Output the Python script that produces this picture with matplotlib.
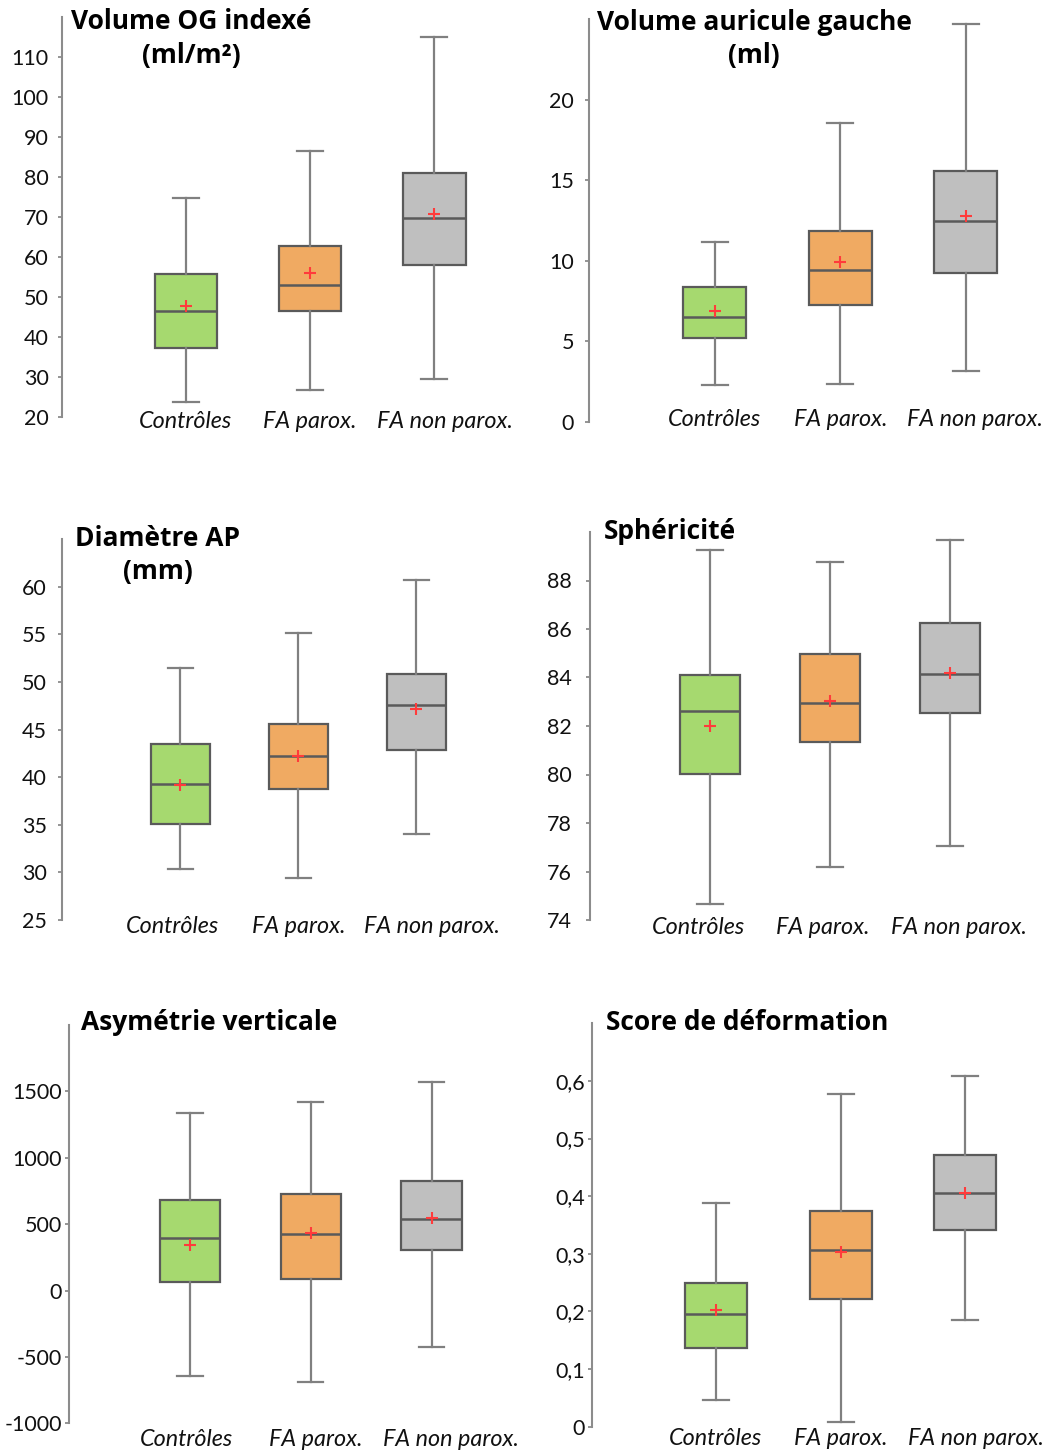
import matplotlib
matplotlib.use("Agg")
import matplotlib.pyplot as plt
from matplotlib.transforms import blended_transform_factory

# ---------------- data ----------------
categories = ["Contrôles", "FA parox.", "FA non parox."]
box_colors = ["#A6D96F", "#F0AA62", "#BFBFBF"]

# Volume OG indexé (ml/m²)
og_whislo = [23.7, 26.8, 29.5]
og_q1 = [37.3, 46.5, 57.9]
og_med = [46.5, 52.9, 69.7]
og_q3 = [55.7, 62.8, 81.1]
og_whishi = [74.8, 86.6, 114.9]
og_mean = [47.7, 56.0, 70.8]
og_ticks = [20, 30, 40, 50, 60, 70, 80, 90, 100, 110]
og_ticklabels = ["20", "30", "40", "50", "60", "70", "80", "90", "100", "110"]

# Volume auricule gauche (ml)
aur_whislo = [2.29, 2.37, 3.18]
aur_q1 = [5.23, 7.23, 9.22]
aur_med = [6.53, 9.44, 12.5]
aur_q3 = [8.35, 11.82, 15.6]
aur_whishi = [11.14, 18.56, 24.67]
aur_mean = [6.88, 9.92, 12.77]
aur_ticks = [0, 5, 10, 15, 20]
aur_ticklabels = ["0", "5", "10", "15", "20"]

# Diamètre AP (mm)
ap_whislo = [30.4, 29.4, 34.0]
ap_q1 = [35.1, 38.8, 42.9]
ap_med = [39.3, 42.2, 47.6]
ap_q3 = [43.5, 45.6, 50.8]
ap_whishi = [51.5, 55.2, 60.7]
ap_mean = [39.2, 42.2, 47.2]
ap_ticks = [25, 30, 35, 40, 45, 50, 55, 60]
ap_ticklabels = ["25", "30", "35", "40", "45", "50", "55", "60"]

# Sphéricité
sph_whislo = [74.65, 76.18, 77.06]
sph_q1 = [80.04, 81.33, 82.54]
sph_med = [82.6, 82.96, 84.16]
sph_q3 = [84.09, 84.97, 86.23]
sph_whishi = [89.24, 88.77, 89.66]
sph_mean = [82.0, 83.04, 84.2]
sph_ticks = [74, 76, 78, 80, 82, 84, 86, 88]
sph_ticklabels = ["74", "76", "78", "80", "82", "84", "86", "88"]

# Asymétrie verticale
asy_whislo = [-641, -691, -422]
asy_q1 = [68, 86, 305]
asy_med = [396, 426, 539]
asy_q3 = [685, 730, 826]
asy_whishi = [1339, 1419, 1573]
asy_mean = [345, 430, 546]
asy_ticks = [-1000, -500, 0, 500, 1000, 1500]
asy_ticklabels = ["-1000", "-500", "0", "500", "1000", "1500"]

# Score de déformation
sco_whislo = [0.047, 0.008, 0.185]
sco_q1 = [0.137, 0.221, 0.342]
sco_med = [0.196, 0.306, 0.406]
sco_q3 = [0.250, 0.3735, 0.472]
sco_whishi = [0.389, 0.577, 0.609]
sco_mean = [0.202, 0.304, 0.405]
sco_ticks = [0, 0.1, 0.2, 0.3, 0.4, 0.5, 0.6]
sco_ticklabels = ["0", "0,1", "0,2", "0,3", "0,4", "0,5", "0,6"]

titles = ["Volume OG indexé\n(ml/m²)", "Volume auricule gauche\n(ml)",
          "Diamètre AP\n(mm)", "Sphéricité",
          "Asymétrie verticale", "Score de déformation"]

panels_data = [
    (og_whislo, og_q1, og_med, og_q3, og_whishi, og_mean, og_ticks, og_ticklabels),
    (aur_whislo, aur_q1, aur_med, aur_q3, aur_whishi, aur_mean, aur_ticks, aur_ticklabels),
    (ap_whislo, ap_q1, ap_med, ap_q3, ap_whishi, ap_mean, ap_ticks, ap_ticklabels),
    (sph_whislo, sph_q1, sph_med, sph_q3, sph_whishi, sph_mean, sph_ticks, sph_ticklabels),
    (asy_whislo, asy_q1, asy_med, asy_q3, asy_whishi, asy_mean, asy_ticks, asy_ticklabels),
    (sco_whislo, sco_q1, sco_med, sco_q3, sco_whishi, sco_mean, sco_ticks, sco_ticklabels),
]

# ---------------- layout (pixels) ----------------
W, H = 1050, 1454
# axis_x, px per category, top_px, bottom_px, ymin, ymax, label dy px, label dx px,
# title x, title y, tick label pad (pt)
layout = [
    (61.7, 124.25, 17.0, 417.0, 20, 120, 5, (0, 0, 10), 191, 38.5, 6.5),
    (589.3, 125.5, 19.0, 422.0, 0, 25, -3, (0, 0, 9), 754, 39, 8),
    (62.3, 118.0, 539.3, 920.0, 25, 65, 6.5, (-8, 0, 16), 157.5, 555, 8),
    (590.0, 120.0, 532.0, 920.0, 74, 90, 7, (-12, -7, 9), 670, 532, 10),
    (69.3, 120.75, 1025.0, 1423.3, -1000, 2000, 16, (-4, 5, 19), 209, 1023, 2.5),
    (591.7, 124.5, 1023.3, 1426.7, 0, 0.7, 12, (-1, 0, 11), 747, 1023, 2),
]
XMAX = 3.6

fig = plt.figure(figsize=(W / 100, H / 100), dpi=100)
fig.patch.set_facecolor("white")

TICK_FONT = "Lato"
TITLE_FONT = "Open Sans"
edge_col = "#5A5A5A"
whisk_col = "#808080"
axis_col = "#8C8C8C"

for (data, lay, title) in zip(panels_data, layout, titles):
    whislo, q1, med, q3, whishi, mean, ticks, ticklabels = data
    ax_x, spacing, top_px, bot_px, ymin, ymax, lab_dy, lab_dx, tx, ty, tpad = lay
    ax = fig.add_axes([ax_x / W, 1 - bot_px / H, spacing * XMAX / W, (bot_px - top_px) / H])
    ax.set_facecolor("none")

    stats = []
    for i, cat in enumerate(categories):
        stats.append(dict(label=cat, whislo=whislo[i], q1=q1[i], med=med[i],
                          q3=q3[i], whishi=whishi[i], mean=mean[i], fliers=[]))
    bp = ax.bxp(stats, positions=[1, 2, 3], widths=0.5, patch_artist=True,
                showmeans=True, showfliers=False, capwidths=0.21,
                boxprops=dict(edgecolor=edge_col, linewidth=1.6),
                whiskerprops=dict(color=whisk_col, linewidth=1.6),
                capprops=dict(color=whisk_col, linewidth=1.6),
                medianprops=dict(color=edge_col, linewidth=1.8),
                meanprops=dict(marker="+", markersize=8, markeredgecolor="#FF3B3B",
                               markerfacecolor="#FF3B3B", markeredgewidth=1.5))
    for patch, c in zip(bp["boxes"], box_colors):
        patch.set_facecolor(c)

    ax.set_xlim(0, XMAX)
    ax.set_ylim(ymin, ymax)
    ax.set_yticks(ticks)
    ax.set_yticklabels(ticklabels, fontfamily=TICK_FONT, fontsize=15.5, color="#111111")
    ax.set_xticks([])
    for s in ["top", "right", "bottom"]:
        ax.spines[s].set_visible(False)
    ax.spines["left"].set_color(axis_col)
    ax.spines["left"].set_linewidth(1.5)
    ax.tick_params(axis="y", direction="out", length=3, width=1.3, color=axis_col, pad=tpad)

    trans = blended_transform_factory(ax.transData, ax.transAxes)
    for i, cat in enumerate(categories):
        ax.annotate(cat, xy=(i + 1, 0), xycoords=trans, xytext=(lab_dx[i], -lab_dy),
                    textcoords="offset pixels", ha="center", va="center",
                    fontfamily=TICK_FONT, fontstyle="italic", fontsize=16.8,
                    color="#111111", annotation_clip=False)

    fig.text(tx / W, 1 - ty / H, title, ha="center", va="center",
             multialignment="center", fontfamily=TITLE_FONT, fontweight="bold",
             fontsize=19, linespacing=1.3, color="#000000")

fig.savefig("out.png", dpi=100, facecolor="white")
